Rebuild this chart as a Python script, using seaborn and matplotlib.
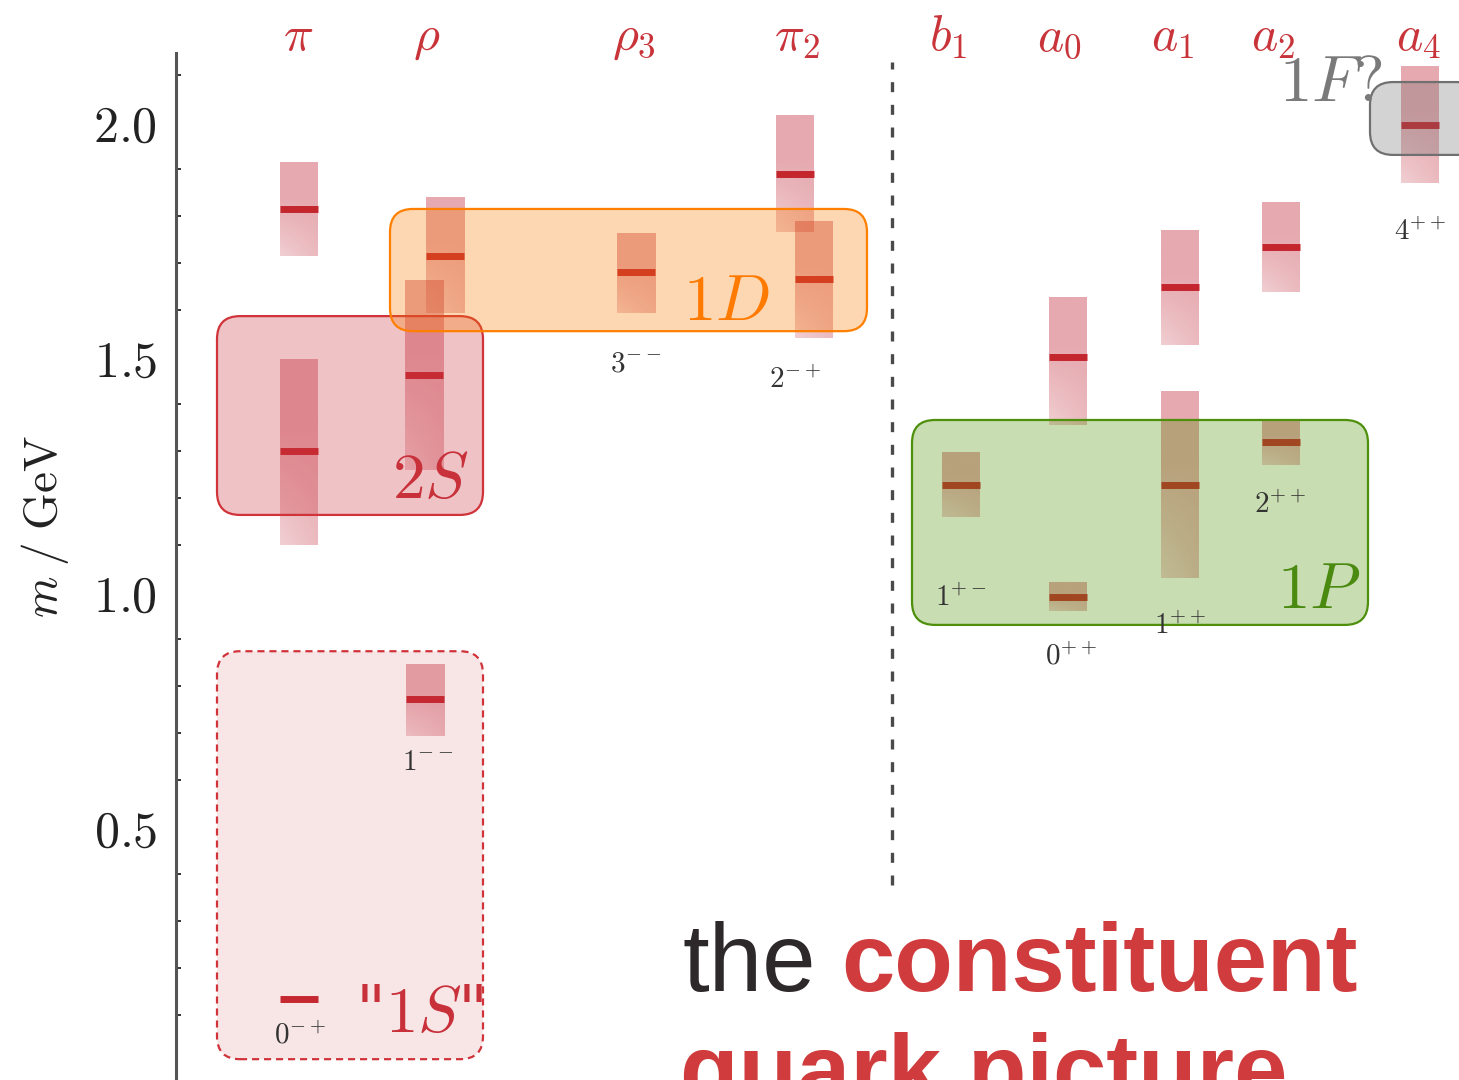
import numpy as np
import matplotlib
matplotlib.use("Agg")
import matplotlib.pyplot as plt
import seaborn as sns
from matplotlib.patches import FancyBboxPatch
from matplotlib.colors import to_rgba
from matplotlib.ticker import FixedLocator

# ---------------------------------------------------------------------------
# Data: light isovector mesons, masses and mass ranges in GeV
# ---------------------------------------------------------------------------
family_keys = ["pi", "rho", "rho3", "pi2", "b1", "a0", "a1", "a2", "a4"]
family_labels = [r"$\pi$", r"$\rho$", r"$\rho_3$", r"$\pi_2$", r"$b_1$",
                 r"$a_0$", r"$a_1$", r"$a_2$", r"$a_4$"]

state_family = ["pi", "pi", "pi", "rho", "rho", "rho", "rho3", "pi2", "pi2",
                "b1", "a0", "a0", "a1", "a1", "a2", "a2", "a4"]
state_mass = [0.134, 1.300, 1.815, 0.772, 1.462, 1.715, 1.681, 1.889, 1.666,
              1.228, 0.989, 1.500, 1.228, 1.649, 1.319, 1.734, 1.994]
state_low = [0.134, 1.100, 1.715, 0.694, 1.260, 1.594, 1.594, 1.766, 1.540,
             1.160, 0.960, 1.355, 1.030, 1.526, 1.270, 1.638, 1.870]
state_high = [0.134, 1.494, 1.913, 0.847, 1.664, 1.840, 1.764, 2.013, 1.787,
              1.298, 1.021, 1.626, 1.426, 1.770, 1.366, 1.828, 2.117]

# J^PC of each family
jpc_labels = [r"$0^{-+}$", r"$1^{--}$", r"$3^{--}$", r"$2^{-+}$", r"$1^{+-}$",
              r"$0^{++}$", r"$1^{++}$", r"$2^{++}$", r"$4^{++}$"]

# quark-model multiplets: name and mass window (GeV)
multiplet_names = ['"$1S$"', r"$2S$", r"$1D$", r"$1P$", r"$1F?$"]
multiplet_low = [0.006, 1.164, 1.555, 0.930, 1.930]
multiplet_high = [0.874, 1.587, 1.815, 1.366, 2.085]

ytick_values = [0.0, 0.5, 1.0, 1.5, 2.0]
ytick_labels = ["", r"$0.5$", r"$1.0$", r"$1.5$", r"$2.0$"]

# ---------------------------------------------------------------------------
# Layout (horizontal positions in column units, vertical in GeV)
# ---------------------------------------------------------------------------
family_x = dict(zip(family_keys, [2.99, 4.25, 6.36, 7.95, 9.61, 10.68, 11.80, 12.81, 14.20]))
state_nudge = [0, 0, 0, 0, -0.01, 0.20, 0, 0, 0.19, 0, 0, 0, 0, 0, 0, 0, 0]
family_label_x = [2.98, 4.27, 6.34, 7.97, 9.48, 10.59, 11.73, 12.73, 14.18]
family_label_y = 2.153
jpc_pos = [(3.00, 0.057), (4.28, 0.638), (6.36, 1.487), (7.95, 1.451),
           (9.61, 0.987), (10.71, 0.862), (11.80, 0.928), (12.80, 1.185),
           (14.20, 1.766)]
multiplet_x = [(2.17, 4.83), (2.17, 4.83), (3.90, 8.67), (9.12, 13.68), (13.70, 14.80)]
multiplet_label_pos = [(4.19, 0.102), (4.30, 1.238), (7.27, 1.617), (13.19, 1.004), (13.31, 2.084)]
multiplet_color = ["#cd3741", "#cd3741", "#fb7a00", "#4e9105", "#6f6f6f"]
multiplet_edge = ["#d0343a", "#d0343a", "#ff7f00", "#4e8f0c", "#707070"]
multiplet_text = ["#c8303a", "#c8303a", "#ff7a00", "#4a8a10", "#7a7a7a"]
multiplet_alpha = [0.12, 0.30, 0.30, 0.30, 0.30]
multiplet_ls = ["--", "-", "-", "-", "-"]

bar_half = 0.19
px_ratio = 100 / 470  # GeV per column unit for equal on-screen lengths

sns.set_theme(style="white")
plt.rcParams["mathtext.fontset"] = "cm"
plt.rcParams["font.family"] = ["DejaVu Serif"]

fig = plt.figure(figsize=(14.59, 10.80), dpi=100)
ax = fig.add_axes([0, 0, 1, 1])
ax.set_facecolor("white")
ax.patch.set_alpha(0)

# mass bands with a soft diagonal fade toward the lower left
base = np.array(to_rgba("#c02a39"))
tt = np.linspace(0, 1, 80)[:, None]
uu = np.linspace(0, 1, 20)[None, :]
fade = np.clip((0.6 - tt) / 0.6, 0, 1) * (1 - 0.55 * uu)
alpha = 0.40 - 0.17 * fade
grad = np.zeros((80, 20, 4))
grad[..., :3] = base[:3]
grad[..., 3] = alpha

for fam, m, lo, hi, dx in zip(state_family, state_mass, state_low, state_high, state_nudge):
    xc = family_x[fam] + dx
    if hi > lo:
        ax.imshow(grad, extent=(xc - bar_half, xc + bar_half, lo, hi), origin="lower",
                  aspect="auto", interpolation="bilinear", zorder=2)
    ax.hlines(m, xc - bar_half, xc + bar_half, colors="#c4262e", lw=5.0, zorder=3,
              capstyle="butt")

# multiplet boxes drawn over the bands
for name, lo, hi, (x0, x1), col, ec, tc, a, ls, (tx, ty) in zip(
        multiplet_names, multiplet_low, multiplet_high, multiplet_x, multiplet_color,
        multiplet_edge, multiplet_text, multiplet_alpha, multiplet_ls, multiplet_label_pos):
    box = FancyBboxPatch((x0, lo), x1 - x0, hi - lo,
                         boxstyle="round,pad=0,rounding_size=0.23",
                         mutation_aspect=px_ratio, facecolor=to_rgba(col, a),
                         edgecolor=ec, lw=1.6, linestyle=ls, zorder=4)
    if ls == "--":
        box.set_linestyle((0, (3.2, 2.2)))
    ax.add_patch(box)
    ax.text(tx, ty, name, color=tc, fontsize=47, ha="center", va="center", zorder=5)

# family names along the top
for lab, x in zip(family_labels, family_label_x):
    ax.text(x, family_label_y, lab, color="#c8343a", fontsize=36, ha="center",
            va="baseline", zorder=6)

# J^PC labels
for lab, (x, y) in zip(jpc_labels, jpc_pos):
    ax.text(x, y, lab, color="#333333", fontsize=21, ha="center", va="center", zorder=6)

# divider between natural/unnatural parity sectors
ax.vlines(8.92, 0.377, 2.128, colors="#4a4a4a", lw=2.4, linestyles=[(0, (3.0, 3.8))], zorder=1)

# axis styling
ax.set_xlim(0, 14.59)
ax.set_ylim(-0.0383, 2.2596)
sns.despine(ax=ax, top=True, right=True, bottom=True)
ax.spines["left"].set_position(("data", 1.765))
ax.spines["left"].set_bounds(-0.1, 2.147)
ax.spines["left"].set_color("#555555")
ax.spines["left"].set_linewidth(2.2)
ax.set_xticks([])
ax.set_yticks(ytick_values, labels=ytick_labels)
ax.yaxis.set_minor_locator(FixedLocator([v / 10 for v in range(1, 22) if v % 5 != 0]))
ax.tick_params(axis="y", which="major", direction="in", length=6, width=1.6,
               color="#333333", labelsize=36, pad=14, labelcolor="#222222")
ax.tick_params(axis="y", which="minor", direction="in", length=3.5, width=1.4,
               color="#333333", left=True)
ax.grid(False)

ax.text(0.45, 1.138, r"$m\;/\;\mathrm{GeV}$", rotation=90, fontsize=34, color="#222222",
        ha="center", va="center")

# headline text (second line runs off the lower edge of the slide)
ax.text(6.83, 0.151, "the", fontfamily="Liberation Sans", fontsize=69, color="#2d2829",
        ha="left", va="baseline")
ax.text(8.41, 0.151, "constituent", fontfamily="Liberation Sans", fontweight="bold",
        fontsize=69, color="#d03c3e", ha="left", va="baseline")
ax.text(6.80, -0.085, "quark picture", fontfamily="Liberation Sans", fontweight="bold",
        fontsize=69, color="#d03c3e", ha="left", va="baseline")

fig.savefig("out.png", dpi=100)
